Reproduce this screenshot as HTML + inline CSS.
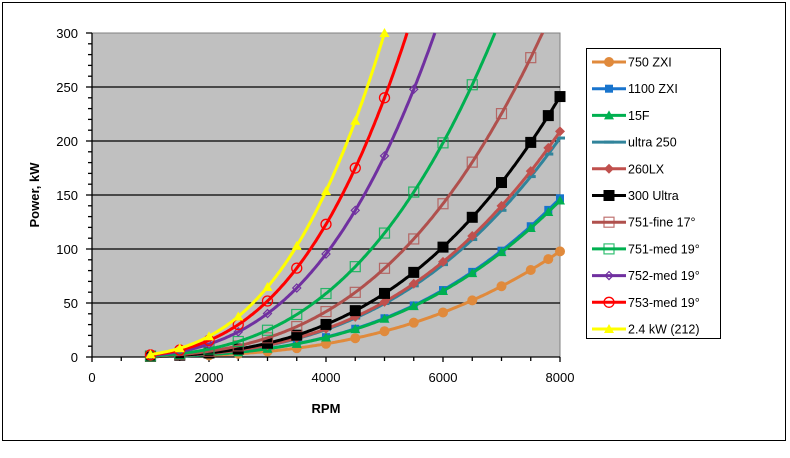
<!DOCTYPE html>
<html><head><meta charset="utf-8"><style>
body{margin:0;background:#fff;width:790px;height:453px;overflow:hidden;font-family:"Liberation Sans",Arial,sans-serif}
</style></head><body>
<svg id="s" width="790" height="453" xmlns="http://www.w3.org/2000/svg" font-family="Liberation Sans, Arial, sans-serif">
<rect x="0" y="0" width="790" height="453" fill="#fff"/>
<rect x="2.5" y="2.5" width="783" height="438" fill="none" stroke="#000" stroke-width="1"/>
<rect x="92" y="33" width="468" height="324" fill="#c0c0c0" stroke="#808080"/>
<g id="grid" stroke="#000" stroke-width="1.3"></g>
<g id="ticks" stroke="#000" stroke-width="1.3"></g>
<g id="series"></g>
<g font-size="13" fill="#000" text-anchor="end" id="ylab"></g>
<g font-size="13" fill="#000" text-anchor="middle" id="xlab"></g>
<text x="326" y="413" font-size="13" font-weight="bold" text-anchor="middle">RPM</text>
<text transform="translate(39,195) rotate(-90)" font-size="13" font-weight="bold" text-anchor="middle">Power, kW</text>
<rect x="586.5" y="48.5" width="134" height="290" fill="#fff" stroke="#000"/>
<g id="legend" font-size="12.5"></g>
</svg>
<script>
const NS="http://www.w3.org/2000/svg";
function el(t,a,p){const e=document.createElementNS(NS,t);for(const k in a)e.setAttribute(k,a[k]);document.getElementById(p).appendChild(e);return e;}
const X=r=>92+r*468/8000, Y=p=>357-p*1.08;
for(let p=50;p<=250;p+=50)el('line',{x1:92,x2:560,y1:Y(p),y2:Y(p)},'grid');
el('line',{x1:92,x2:92,y1:33,y2:357},'ticks');el('line',{x1:92,x2:560,y1:357,y2:357},'ticks');
for(let p=0;p<=300;p+=10)el('line',{x1:p%50?88:86,x2:92,y1:Y(p),y2:Y(p)},'ticks');
for(let r=0;r<=8000;r+=500)el('line',{x1:X(r),x2:X(r),y1:357,y2:r%2000?361:362},'ticks');
for(let p=0;p<=300;p+=50){const t=el('text',{x:78,y:Y(p)+5},'ylab');t.textContent=p;}
for(let r=0;r<=8000;r+=2000){const t=el('text',{x:X(r),y:382},'xlab');t.textContent=r;}
const S=[
["750 ZXI","#e08a3c",0.191,"circle",true,2000],
["1100 ZXI","#1874cd",0.287,"square",true,1000],
["15F","#00b050",0.283,"tri",true,1000],
["ultra 250","#31849b",0.396,"dash",true,1000],
["260LX","#c0504d",0.408,"diamond",true,1000],
["300 Ultra","#000000",0.471,"bigsq",true,1000],
["751-fine 17°","#b0504d",0.657,"osq",false,1000],
["751-med 19°","#00b050",0.918,"osq",false,1000],
["752-med 19°","#7030a0",1.49,"odia",false,1000],
["753-med 19°","#ff0000",1.92,"ocirc",false,1000],
["2.4 kW (212)","#ffff00",2.4,"tri",true,1000]];
function marker(g,x,y,type,c){
 const f=c;
 if(type=="circle")el('circle',{cx:x,cy:y,r:5,fill:f},g);
 else if(type=="square")el('rect',{x:x-4,y:y-4,width:8,height:8,fill:f},g);
 else if(type=="bigsq")el('rect',{x:x-5.5,y:y-5.5,width:11,height:11,fill:f},g);
 else if(type=="tri")el('polygon',{points:`${x},${y-5} ${x+5},${y+4} ${x-5},${y+4}`,fill:f},g);
 else if(type=="diamond")el('polygon',{points:`${x},${y-5} ${x+5},${y} ${x},${y+5} ${x-5},${y}`,fill:f},g);
 else if(type=="dash")el('line',{x1:x-5,x2:x+5,y1:y,y2:y,stroke:f,"stroke-width":3},g);
 else if(type=="osq")el('rect',{x:x-5,y:y-5,width:10,height:10,fill:"none",stroke:f,"stroke-width":1.2,opacity:0.8},g);
 else if(type=="odia")el('polygon',{points:`${x},${y-4} ${x+4},${y} ${x},${y+4} ${x-4},${y}`,fill:"none",stroke:f,"stroke-width":1.2},g);
 else if(type=="ocirc")el('circle',{cx:x,cy:y,r:5,fill:"none",stroke:f,"stroke-width":1.3},g);
}
S.forEach((s,i)=>{
 const [name,c,k,type,_,st]=s;
 const g=el('g',{},'series');g.id='g'+i;
 let pts=[];
 for(let r=st;r<=8000;r+=25){const p=k*Math.pow(r/1000,3);if(p>300){const r2=1000*Math.cbrt(300/k);pts.push(X(r2).toFixed(1)+','+Y(300).toFixed(1));break;}pts.push(X(r).toFixed(1)+','+Y(p).toFixed(1));}
 el('polyline',{points:pts.join(' '),fill:"none",stroke:c,"stroke-width":3},g.id);
 for(let r=st;r<=8000;r+=500){const p=k*Math.pow(r/1000,3);if(p>300)break;marker(g.id,X(r),Y(p),type,c);}
 if(i<6&&k<0.5){[7800].forEach(r=>marker(g.id,X(r),Y(k*Math.pow(r/1000,3)),type,c));}
 const ly=62+i*26.7;
 const lg=el('g',{},'legend');lg.id='l'+i;
 el('line',{x1:592,x2:626,y1:ly,y2:ly,stroke:c,"stroke-width":3},lg.id);
 marker(lg.id,609,ly,type,c);
 const t=el('text',{x:628,y:ly+4.5},lg.id);t.textContent=name;
});
</script>
</body></html>
